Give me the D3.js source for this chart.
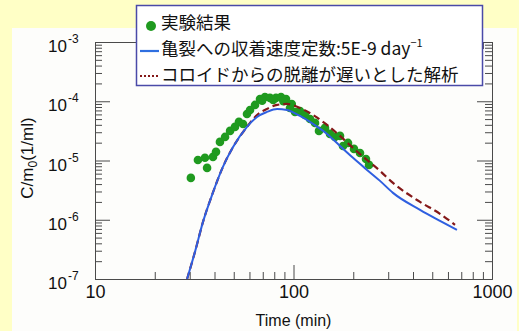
<!DOCTYPE html>
<html>
<head>
<meta charset="utf-8">
<script src="https://cdn.jsdelivr.net/npm/d3@7"></script>
<style>
  html, body { margin: 0; padding: 0; background: #ffffc6; }
  svg { display: block; }
</style>
</head>
<body>
<div id="chart"></div>
<script>

//******************************************************************************
//**  Data
//******************************************************************************

  // measured points (time in min, C/m0 in 1/ml)
    var expTime = [30.4, 33.0, 35.8, 36.7, 39.3, 40.7, 42.6, 45.2, 47.9, 50.7, 53.1, 55.7,
                   58.3, 60.4, 64.0, 67.8, 71.8, 76.1, 81.6, 86.5, 91.7, 96.0, 101.8,
                   107.8, 114.3, 121.1, 128.3, 134.4, 144.1, 152.7, 161.8, 171.5, 177.6,
                   188.2, 201.7, 216.3, 231.8, 240.1, 69.5, 79.0, 89.0, 98.0];
    var expConc = [5.09e-6, 1.02e-5, 1.11e-5, 7.5e-6, 1.15e-5, 1.40e-5, 2.06e-5, 2.50e-5,
                   3.16e-5, 3.69e-5, 4.48e-5, 4.14e-5, 6.1e-5, 7.13e-5, 8.67e-5, 1.09e-4,
                   1.18e-4, 1.14e-4, 1.14e-4, 1.18e-4, 1.09e-4, 7.71e-5, 6.6e-5, 6.86e-5,
                   5.87e-5, 5.03e-5, 4.31e-5, 3.16e-5, 3.55e-5, 2.81e-5, 2.50e-5, 2.6e-5,
                   1.76e-5, 1.98e-5, 1.57e-5, 1.34e-5, 1.06e-5, 8.43e-6, 1.02e-4, 1.05e-4,
                   1.0e-4, 9.0e-5];

  // sorption rate 5E-9 day^-1 (blue)
    var sorbTime = [29.1, 31.9, 35.0, 38.9, 44.1, 49.6, 58.3, 65.5, 73.5, 82.6, 92.7, 107.8,
                    125.4, 147.5, 171.5, 199.4, 234.6, 272.8, 317.1, 433.9, 547, 666];
    var sorbConc = [1e-7, 2.88e-7, 9.2e-7, 2.63e-6, 7.8e-6, 1.69e-5, 3.69e-5, 5.43e-5, 6.6e-5,
                    7.41e-5, 7.13e-5, 5.65e-5, 4.14e-5, 2.81e-5, 1.76e-5, 1.11e-5, 6.94e-6,
                    4.53e-6, 2.84e-6, 1.47e-6, 9.58e-7, 6.76e-7];

  // slow colloid detachment (dark red, dashed)
    var slowTime = [29.1, 31.9, 35.0, 38.9, 44.1, 49.6, 58.3, 65.5, 73.5, 82.6, 92.7, 107.8,
                    125.4, 147.5, 171.5, 199.4, 234.6, 272.8, 317.1, 433.9, 547, 651];
    var slowConc = [1e-7, 2.88e-7, 9.2e-7, 2.63e-6, 7.8e-6, 1.69e-5, 3.69e-5, 5.87e-5, 7.41e-5,
                    8.67e-5, 9.0e-5, 7.71e-5, 5.87e-5, 3.98e-5, 2.6e-5, 1.63e-5, 1.02e-5,
                    6.68e-6, 4.19e-6, 2.0e-6, 1.26e-6, 8.2e-7];

    var xTicks = [10, 100, 1000];
    var yExponents = [-3, -4, -5, -6, -7];

    var legendLabels = ["実験結果", "亀裂への収着速度定数:5E-9 day", "コロイドからの脱離が遅いとした解析"];


//******************************************************************************
//**  Chart
//******************************************************************************

    var width = 519, height = 331;
    var plot = {left: 95, right: 492, top: 42, bottom: 279};
    var axisColor = "#4a4a4a";
    var numFont = "'Liberation Sans', Arial, sans-serif";
    var jpFont = "'Noto Sans CJK JP', sans-serif";

    var svg = d3.select("#chart").append("svg")
        .attr("width", width)
        .attr("height", height);

  //White panel behind the chart
    svg.append("rect")
        .attr("x", 12).attr("y", 28)
        .attr("width", 505).attr("height", height - 28)
        .attr("fill", "#fdfdfb");

    var x = d3.scaleLog().domain([10, 1000]).range([plot.left, plot.right]);
    var y = d3.scaleLog().domain([1e-7, 1e-3]).range([plot.bottom, plot.top]);

  //Minor tick values
    var xMinor = [], yMinor = [];
    [10, 100].forEach(function(d){
        for (var k = 2; k < 10; k++) xMinor.push(d * k);
    });
    yExponents.slice(1).forEach(function(e){
        for (var k = 2; k < 10; k++) yMinor.push(k * Math.pow(10, e));
    });
    var yMajor = yExponents.map(function(e){ return Math.pow(10, e); });


  //**************************************************************************
  //** Axes
  //**************************************************************************
    var addAxis = function(axis, tx, ty){
        var g = svg.append("g")
            .attr("transform", "translate(" + tx + "," + ty + ")")
            .call(axis);
        g.selectAll("path, line").attr("stroke", axisColor).attr("stroke-width", 1);
        return g;
    };

    var noLabel = function(){ return ""; };

  //bottom
    addAxis(d3.axisBottom(x).tickValues(xMinor).tickSize(-7).tickSizeOuter(0).tickFormat(noLabel), 0, plot.bottom);
    var xLab = addAxis(d3.axisBottom(x).tickValues(xTicks).tickSize(-14).tickSizeOuter(0)
        .tickPadding(6).tickFormat(d3.format("d")), 0, plot.bottom);
    xLab.selectAll("text")
        .attr("fill", "#111")
        .style("font-family", numFont)
        .style("font-size", "18px");

  //top
    addAxis(d3.axisTop(x).tickValues(xMinor).tickSize(-7).tickSizeOuter(0).tickFormat(noLabel), 0, plot.top);
    addAxis(d3.axisTop(x).tickValues(xTicks).tickSize(-14).tickSizeOuter(0).tickFormat(noLabel), 0, plot.top);

  //left
    addAxis(d3.axisLeft(y).tickValues(yMinor).tickSize(-7).tickSizeOuter(0).tickFormat(noLabel), plot.left, 0);
    addAxis(d3.axisLeft(y).tickValues(yMajor).tickSize(-15).tickSizeOuter(0).tickFormat(noLabel), plot.left, 0);

  //right
    addAxis(d3.axisRight(y).tickValues(yMinor).tickSize(-7).tickSizeOuter(0).tickFormat(noLabel), plot.right, 0);
    addAxis(d3.axisRight(y).tickValues(yMajor).tickSize(-15).tickSizeOuter(0).tickFormat(noLabel), plot.right, 0);

  //y tick labels (10 with superscript exponent)
    var yLab = svg.append("g")
        .style("font-family", numFont)
        .attr("fill", "#111");
    yExponents.forEach(function(e){
        var t = yLab.append("text")
            .attr("x", 48)
            .attr("y", y(Math.pow(10, e)) + 10)
            .style("font-size", "17px");
        t.append("tspan").text("10");
        t.append("tspan")
            .attr("dy", -9)
            .attr("dx", 1)
            .style("font-size", "12px")
            .text("-" + (-e));
    });

  //axis titles
    svg.append("text")
        .attr("x", (plot.left + plot.right) / 2)
        .attr("y", 326)
        .attr("text-anchor", "middle")
        .attr("fill", "#111")
        .style("font-family", numFont)
        .style("font-size", "16px")
        .text("Time (min)");

    var yTitle = svg.append("text")
        .attr("transform", "translate(33," + 158 + ") rotate(-90)")
        .attr("text-anchor", "middle")
        .attr("fill", "#111")
        .style("font-family", numFont)
        .style("font-size", "17px");
    yTitle.append("tspan").text("C/m");
    yTitle.append("tspan").attr("dy", 4).style("font-size", "12px").text("0");
    yTitle.append("tspan").attr("dy", -4).text("(1/ml)");


  //**************************************************************************
  //** Series
  //**************************************************************************
    var plotArea = svg.append("g");

    var line = d3.line()
        .x(function(d){ return x(d[0]); })
        .y(function(d){ return y(d[1]); })
        .curve(d3.curveMonotoneX);

    plotArea.append("g")
        .selectAll("circle")
        .data(d3.zip(expTime, expConc))
        .enter()
        .append("circle")
        .attr("cx", function(d){ return x(d[0]); })
        .attr("cy", function(d){ return y(d[1]); })
        .attr("r", 4.3)
        .attr("fill", "#1f9a1f");

    plotArea.append("path")
        .datum(d3.zip(slowTime, slowConc))
        .attr("d", line)
        .attr("fill", "none")
        .attr("stroke", "#841818")
        .attr("stroke-width", 2.2)
        .attr("stroke-dasharray", "7,4");

    plotArea.append("path")
        .datum(d3.zip(sorbTime, sorbConc))
        .attr("d", line)
        .attr("fill", "none")
        .attr("stroke", "#2f5fe0")
        .attr("stroke-width", 2);


  //**************************************************************************
  //** Legend
  //**************************************************************************
    var legend = svg.append("g");

    legend.append("rect")
        .attr("x", 136.5).attr("y", 5.5)
        .attr("width", 346).attr("height", 80)
        .attr("fill", "#ffffff")
        .attr("stroke", "#4a4aa8")
        .attr("stroke-width", 1.5);

    legend.append("circle")
        .attr("cx", 151).attr("cy", 26).attr("r", 5)
        .attr("fill", "#1f9a1f");

    legend.append("line")
        .attr("x1", 140).attr("x2", 159)
        .attr("y1", 51).attr("y2", 51)
        .attr("stroke", "#2f6fe0")
        .attr("stroke-width", 2.2);

    legend.append("line")
        .attr("x1", 140).attr("x2", 159)
        .attr("y1", 76).attr("y2", 76)
        .attr("stroke", "#841818")
        .attr("stroke-width", 2)
        .attr("stroke-dasharray", "2,2");

    var rows = [29, 55, 81];
    legendLabels.forEach(function(label, i){
        var t = legend.append("text")
            .attr("x", 161)
            .attr("y", rows[i])
            .attr("fill", "#111")
            .style("font-family", jpFont)
            .style("font-size", "17.5px")
            .text(label);
        if (i === 1){
            t.append("tspan")
                .attr("dy", -8)
                .style("font-size", "11px")
                .text("−1");
        }
    });

</script>
</body>
</html>
